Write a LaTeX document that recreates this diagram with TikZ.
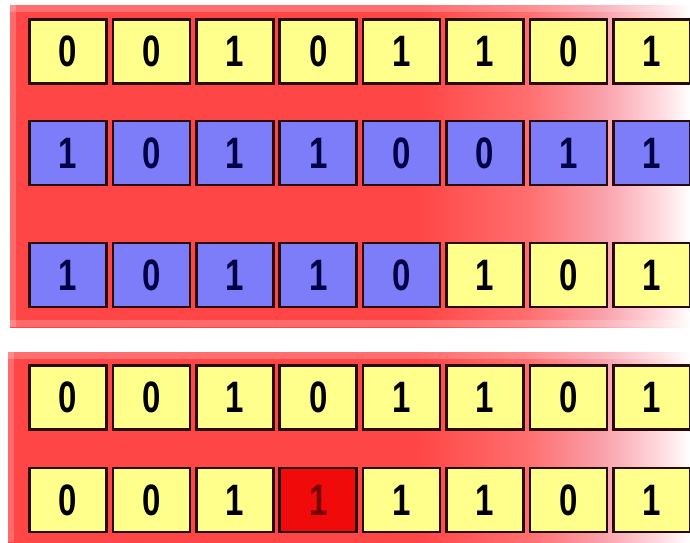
\documentclass[tikz,border=0pt]{standalone}
\usepackage{fontspec}
\setmainfont{Liberation Sans}
\definecolor{bgR}{RGB}{255,70,70}
\definecolor{bgQ}{RGB}{255,110,110}
\definecolor{bgM}{RGB}{250,160,170}
\definecolor{bgP}{RGB}{255,218,222}
\definecolor{ycol}{RGB}{255,255,140}
\definecolor{bcol}{RGB}{125,125,250}
\definecolor{rcol}{RGB}{240,10,10}
\definecolor{edge}{RGB}{40,10,10}
\pgfdeclarehorizontalshading{bgfade}{100bp}{color(0bp)=(bgR); color(25bp)=(bgR); color(55bp)=(bgR); color(63bp)=(bgQ); color(68.5bp)=(bgM); color(72.8bp)=(bgP); color(75bp)=(white); color(100bp)=(white)}
\tikzset{
  cellbase/.style={draw=edge, line width=2.5pt, minimum width=77pt, minimum height=64pt, inner sep=0pt,
    font=\fontsize{44}{44}\selectfont\bfseries},
  ycell/.style={cellbase, fill=ycol, text=black},
  bcell/.style={cellbase, fill=bcol, text={rgb,255:red,0;green,0;blue,70}},
  rcell/.style={cellbase, fill=rcol, text={rgb,255:red,120;green,0;blue,0}},
  panel/.style={shading=bgfade},
}
\newcommand{\dg}[1]{\scalebox{0.75}[1]{#1}}
\begin{document}
\begin{tikzpicture}[x=1pt,y=-1pt]
\useasboundingbox (0,0) rectangle (690,542);
% top panel background
\shade[panel] (10,5) rectangle (690,327);
\fill[white,opacity=0.22] (10,5) rectangle (690,12);
\fill[white,opacity=0.2] (10,320) rectangle (690,327);
\fill[white,opacity=0.2] (10,5) rectangle (16,327);
% bottom panel background
\shade[panel] (8,352) rectangle (690,542);
\fill[white,opacity=0.22] (8,352) rectangle (690,359);
\fill[white,opacity=0.2] (8,352) rectangle (14,542);
% rows
\foreach \v [count=\i from 0] in {0,0,1,0,1,1,0,1}
  \node[ycell] (a\i) at (68+83.4*\i, 51.5) {\dg{\v}};
\foreach \v [count=\i from 0] in {1,0,1,1,0,0,1,1}
  \node[bcell] (b\i) at (68+83.4*\i, 153) {\dg{\v}};
\foreach \v [count=\i from 0] in {1,0,1,1,0}
  \node[bcell] (c\i) at (68+83.4*\i, 275) {\dg{\v}};
\foreach \v [count=\i from 5] in {1,0,1}
  \node[ycell] (c\i) at (68+83.4*\i, 275) {\dg{\v}};
\foreach \v [count=\i from 0] in {0,0,1,0,1,1,0,1}
  \node[ycell] (d\i) at (68+83.4*\i, 397.5) {\dg{\v}};
\foreach \v [count=\i from 0] in {0,0,1}
  \node[ycell] (e\i) at (68+83.4*\i, 500) {\dg{\v}};
\node[rcell] (e3) at (68+83.4*3, 500) {\dg{1}};
\foreach \v [count=\i from 4] in {1,1,0,1}
  \node[ycell] (e\i) at (68+83.4*\i, 500) {\dg{\v}};
\end{tikzpicture}
\end{document}
